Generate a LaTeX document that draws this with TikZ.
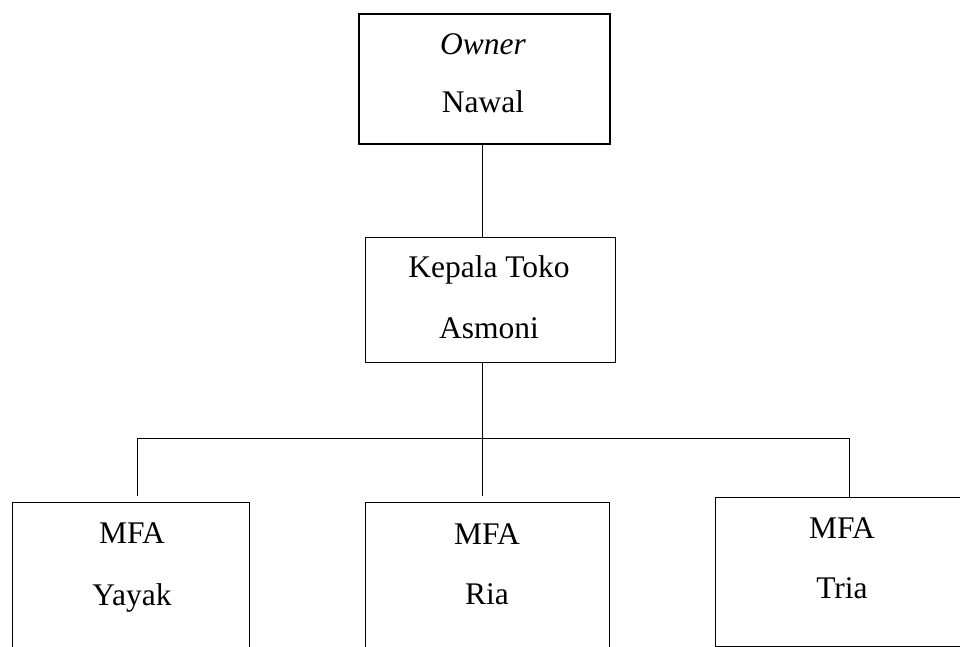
\documentclass[tikz,border=0pt]{standalone}
\usepackage{fontspec}
\setmainfont{Liberation Serif}
\begin{document}
\begin{tikzpicture}[x=1pt,y=-1pt,
  boxbase/.style={draw=black,line width=1.1pt,inner sep=0pt,anchor=north west},
  thickbox/.style={boxbase,line width=2.4pt},
  lbl/.style={inner sep=0pt,anchor=base,font=\fontsize{31.5}{31.5}\selectfont},
  conn/.style={draw=black,line width=1pt}]
\clip (0,0) rectangle (960,647);
\fill[white] (0,0) rectangle (960,647);
% boxes
\node[thickbox,minimum width=251pt,minimum height=130pt] (owner) at (358,13) {};
\node[boxbase,minimum width=250pt,minimum height=125pt] (kepala) at (365,237) {};
\node[boxbase,minimum width=237pt,minimum height=200pt] (yayak) at (12,502) {};
\node[boxbase,minimum width=244pt,minimum height=200pt] (ria) at (365,502) {};
\node[boxbase,minimum width=255pt,minimum height=149pt] (tria) at (715,497) {};
% labels
\node[lbl] (t1) at (483,55) {\itshape Owner};
\node[lbl] (t2) at (483,113) {Nawal};
\node[lbl] (t3) at (489,277) {Kepala Toko};
\node[lbl] (t4) at (489,338) {Asmoni};
\node[lbl] (t5) at (132,543) {MFA};
\node[lbl] (t6) at (132,605) {Yayak};
\node[lbl] (t7) at (487,544) {MFA};
\node[lbl] (t8) at (487,604) {Ria};
\node[lbl] (t9) at (842,538) {MFA};
\node[lbl] (t10) at (842,598) {Tria};
% connector coordinates
\coordinate (spine) at (482,438);
\coordinate (busL) at (137,438);
\coordinate (busR) at (849,438);
\coordinate (endL) at (137,496);
\coordinate (endM) at (482,496);
% connectors
\draw[conn] (owner.south -| spine) -- (kepala.north -| spine);
\draw[conn] (kepala.south -| spine) -- (spine);
\draw[conn] (endL) -- (busL) -- (busR) -- (tria.north -| busR);
\draw[conn] (spine) -- (endM);
\end{tikzpicture}
\end{document}
